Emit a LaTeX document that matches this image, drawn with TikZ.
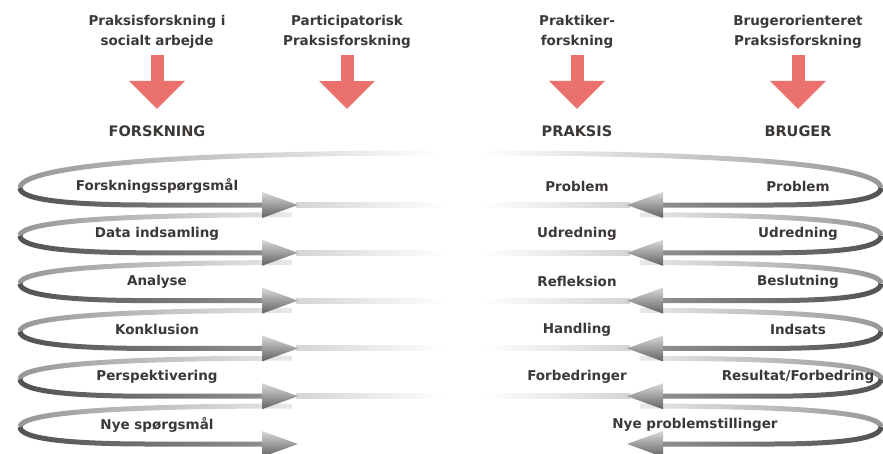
\documentclass[tikz,border=0pt]{standalone}
\usepackage{fontspec}
\setmainfont{DejaVu Sans}
\usetikzlibrary{arrows.meta, fadings}

\definecolor{txtgray}{RGB}{60,56,54}
\definecolor{salmon}{RGB}{234,113,108}
\definecolor{loopdark}{RGB}{84,82,80}
\definecolor{loopback}{RGB}{150,150,150}

\tikzfading[name=fadeE, left color=transparent!0, right color=transparent!100]
\tikzfading[name=fadeW, left color=transparent!100, right color=transparent!0]
\tikzfading[name=fadeEpart, left color=transparent!0, right color=transparent!80]
\tikzfading[name=fadeWpart, left color=transparent!80, right color=transparent!0]
\tikzfading[name=fadeElow, left color=transparent!0, right color=transparent!35]
\tikzfading[name=fadeWlow, left color=transparent!35, right color=transparent!0]

\begin{document}
\begin{tikzpicture}[
        x=1pt, y=-1pt,
        source/.style={font=\bfseries\fontsize{13.5}{20}\selectfont, text=txtgray, align=center},
        side/.style={font=\bfseries\fontsize{14.5}{17}\selectfont, text=txtgray},
        stepname/.style={font=\bfseries\fontsize{13.5}{16}\selectfont, text=txtgray},
        redarrow/.style={draw=salmon, line width=13pt, -{Triangle[length=28pt, width=54pt]}},
        backline/.style={draw=loopback, line width=5pt},
        frontline/.style={draw=loopdark, line width=5pt},
        tailline/.style={left color=black!17, middle color=black!14, right color=white},
        headfill/.style={top color=black!15, bottom color=black!62}
    ]
    \useasboundingbox (0,0) rectangle (883,453);

    % kilder og pile
    \node[source] (src1) at (157,32) {Praksisforskning i\\socialt arbejde};
    \node[source] (src2) at (347,32) {Participatorisk\\Praksisforskning};
    \node[source] (src3) at (577,32) {Praktiker-\\forskning};
    \node[source] (src4) at (798,32) {Brugerorienteret\\Praksisforskning};

    \node[side] (forsk) at (157,131) {FORSKNING};
    \node[side] (praksis) at (577,131) {PRAKSIS};
    \node[side] (bruger) at (798,131) {BRUGER};
    \coordinate (parttip) at (347,109);

    \draw[redarrow, shorten <=3pt, shorten >=13pt] (src1) -- (forsk);
    \draw[redarrow, shorten <=3pt] (src2) -- (parttip);
    \draw[redarrow, shorten <=3pt, shorten >=13pt] (src3) -- (praksis);
    \draw[redarrow, shorten <=3pt, shorten >=13pt] (src4) -- (bruger);

    % venstre spiral (bagside)
    \draw[backline, path fading=fadeE] (438,153) .. controls (150,153) and (20,168) .. (20,188);
    \foreach \i in {1,...,5} {
        \pgfmathsetmacro\yb{205+47.8*\i}
        \draw[backline, path fading=fadeEpart] (292,\yb-38) .. controls (110,\yb-38) and (20,\yb-31) .. (20,\yb-17);
    }
    % hoejre spiral (bagside)
    \draw[backline, path fading=fadeW] (482,153) .. controls (760,153) and (881,168) .. (881,188);
    \foreach \i in {1,...,5} {
        \pgfmathsetmacro\yb{205+47.8*\i}
        \draw[backline, path fading=fadeWpart] (640,\yb-38) .. controls (800,\yb-38) and (881,\yb-31) .. (881,\yb-17);
    }

    % fortsaettelser
    \foreach \i in {0,...,4} {
        \pgfmathsetmacro\yb{205+47.8*\i}
        \shade[tailline] (296,\yb-2.5) rectangle (445,\yb+2.5);
        \shade[left color=white, middle color=black!14, right color=black!17] (482,\yb-2.5) rectangle (630,\yb+2.5);
    }

    % forside og pilespidser
    \foreach \i in {0,...,5} {
        \pgfmathsetmacro\yb{205+47.8*\i}
        \draw[frontline, path fading=fadeElow] (20,\yb-17) .. controls (20,\yb-5) and (70,\yb) .. (150,\yb) -- (264,\yb);
        \shade[headfill] (262,\yb-13) -- (298,\yb) -- (262,\yb+13) -- cycle;
        \draw[frontline, path fading=fadeWlow] (881,\yb-17) .. controls (881,\yb-5) and (840,\yb) .. (770,\yb) -- (661,\yb);
        \shade[headfill] (663,\yb-13) -- (627,\yb) -- (663,\yb+13) -- cycle;
    }

    % trin
    \foreach \i/\txt in {0/Forskningsspørgsmål, 1/Data indsamling, 2/Analyse, 3/Konklusion, 4/Perspektivering, 5/Nye spørgsmål}
        \node[stepname] (forsk\i) at (157,186+47.8*\i) {\txt};
    \foreach \i/\txt in {0/Problem, 1/Udredning, 2/Refleksion, 3/Handling, 4/Forbedringer}
        \node[stepname] (praksis\i) at (577,186+47.8*\i) {\txt};
    \foreach \i/\txt in {0/Problem, 1/Udredning, 2/Beslutning, 3/Indsats, 4/Resultat\slash Forbedring}
        \node[stepname] (bruger\i) at (798,186+47.8*\i) {\txt};
    \node[stepname] (nye) at (695,425) {Nye problemstillinger};

\end{tikzpicture}
\end{document}
